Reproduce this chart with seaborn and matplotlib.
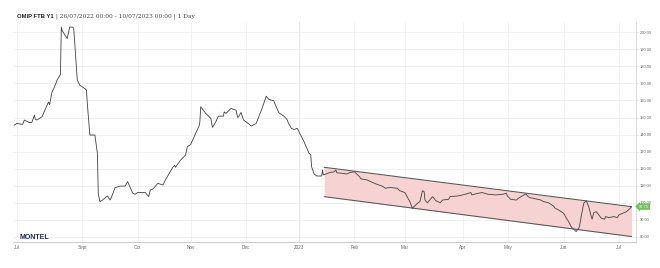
import numpy as np
import pandas as pd
import matplotlib
matplotlib.use("Agg")
import matplotlib.pyplot as plt
import matplotlib.transforms as mtransforms
import seaborn as sns

# ---------------- data ----------------
dates = [
    "2022-07-26", "2022-07-27", "2022-07-30", "2022-08-01", "2022-08-03", "2022-08-04",
    "2022-08-05", "2022-08-06", "2022-08-08", "2022-08-10", "2022-08-13", "2022-08-14",
    "2022-08-15", "2022-08-16", "2022-08-17", "2022-08-18", "2022-08-20", "2022-08-21",
    "2022-08-22", "2022-08-24", "2022-08-25", "2022-08-27", "2022-08-28", "2022-08-30",
    "2022-08-31", "2022-09-02", "2022-09-04", "2022-09-05", "2022-09-06", "2022-09-08",
    "2022-09-09", "2022-09-10", "2022-09-12", "2022-09-13", "2022-09-15", "2022-09-16",
    "2022-09-18", "2022-09-20", "2022-09-22", "2022-09-26", "2022-09-27", "2022-09-29",
    "2022-09-30", "2022-10-03", "2022-10-06", "2022-10-08", "2022-10-10", "2022-10-11",
    "2022-10-13", "2022-10-17", "2022-10-18", "2022-10-21", "2022-10-23", "2022-10-24",
    "2022-10-26", "2022-10-28", "2022-10-30", "2022-11-01", "2022-11-03", "2022-11-05",
    "2022-11-06", "2022-11-07", "2022-11-09", "2022-11-11", "2022-11-13", "2022-11-15",
    "2022-11-16", "2022-11-18", "2022-11-19", "2022-11-21", "2022-11-23", "2022-11-25",
    "2022-11-27", "2022-11-28", "2022-11-29", "2022-11-30", "2022-12-03", "2022-12-05",
    "2022-12-07", "2022-12-10", "2022-12-13", "2022-12-14", "2022-12-16", "2022-12-18",
    "2022-12-20", "2022-12-22", "2022-12-24", "2022-12-26", "2022-12-28", "2022-12-29",
    "2022-12-31", "2023-01-02", "2023-01-04", "2023-01-06", "2023-01-08", "2023-01-09",
    "2023-01-10", "2023-01-11", "2023-01-13", "2023-01-14", "2023-01-15", "2023-01-18",
    "2023-01-20", "2023-01-22", "2023-01-23", "2023-01-25", "2023-01-27", "2023-01-30",
    "2023-02-01", "2023-02-03", "2023-02-05", "2023-02-08", "2023-02-11", "2023-02-14",
    "2023-02-16", "2023-02-18", "2023-02-21", "2023-02-24", "2023-02-27", "2023-03-01",
    "2023-03-03", "2023-03-05", "2023-03-06", "2023-03-08", "2023-03-09", "2023-03-10",
    "2023-03-12", "2023-03-13", "2023-03-14", "2023-03-16", "2023-03-18", "2023-03-21",
    "2023-03-22", "2023-03-25", "2023-03-27", "2023-03-30", "2023-04-01", "2023-04-04",
    "2023-04-07", "2023-04-09", "2023-04-12", "2023-04-16", "2023-04-19", "2023-04-24",
    "2023-04-27", "2023-04-29", "2023-05-01", "2023-05-03", "2023-05-06", "2023-05-08",
    "2023-05-11", "2023-05-12", "2023-05-14", "2023-05-16", "2023-05-19", "2023-05-22",
    "2023-05-24", "2023-05-26", "2023-05-28", "2023-05-30", "2023-06-01", "2023-06-03",
    "2023-06-05", "2023-06-06", "2023-06-08", "2023-06-09", "2023-06-10", "2023-06-12",
    "2023-06-13", "2023-06-14", "2023-06-15", "2023-06-16", "2023-06-17", "2023-06-19",
    "2023-06-20", "2023-06-22", "2023-06-24", "2023-06-25", "2023-06-27", "2023-06-29",
    "2023-07-01", "2023-07-03", "2023-07-06", "2023-07-09", "2023-07-10",
]
prices = [
    145.5, 146.5, 146.0, 148.5, 147.0, 147.2,
    151.4, 149.0, 148.5, 150.4, 158.3, 159.0,
    157.5, 165.0, 168.0, 172.0, 175.2, 203.0,
    201.0, 196.3, 203.0, 203.0, 201.0, 172.0,
    169.0, 167.0, 166.0, 158.0, 139.7, 139.7,
    129.0, 105.6, 100.7, 101.6, 104.0, 101.6,
    103.6, 108.8, 109.8, 109.8, 112.4, 105.6,
    105.0, 106.1, 106.0, 103.6, 107.5, 108.0,
    111.4, 110.4, 113.4, 121.0, 122.0, 120.8,
    125.0, 128.0, 132.8, 134.2, 140.7, 145.0,
    147.5, 156.3, 152.4, 149.5, 144.2, 147.5,
    150.8, 150.8, 153.3, 152.4, 155.3, 154.3,
    150.0, 150.4, 153.0, 148.5, 146.0, 145.0,
    146.5, 155.3, 162.5, 160.6, 159.8, 157.3,
    152.8, 150.8, 148.9, 146.9, 143.6, 143.0,
    143.6, 141.6, 135.8, 129.0, 128.3, 121.1,
    116.9, 115.7, 115.7, 119.2, 116.3, 117.6,
    118.2, 119.2, 117.6, 117.3, 116.9, 117.6,
    118.2, 115.3, 114.0, 113.4, 111.8, 110.8,
    109.8, 108.5, 109.0, 108.5, 107.1, 106.0,
    100.7, 98.1, 96.8, 99.7, 100.7, 107.1,
    106.5, 101.6, 100.0, 103.6, 101.2, 100.0,
    101.6, 102.0, 103.6, 104.0, 104.4, 105.0,
    106.0, 104.6, 105.2, 106.0, 105.0, 104.6,
    105.0, 105.6, 104.0, 102.0, 101.6, 102.6,
    105.2, 103.6, 103.0, 102.6, 101.6, 100.7,
    100.0, 98.1, 96.8, 95.8, 93.9, 90.4,
    89.0, 86.0, 83.1, 85.1, 86.0, 91.9,
    99.7, 101.2, 97.7, 91.9, 90.4, 94.2,
    94.8, 90.9, 90.4, 91.9, 91.3, 91.9,
    91.3, 92.9, 94.8, 97.1, 97.75,
]

channel_dates = ["2023-01-16", "2023-07-10"]
channel_upper = [120.8, 97.7]
channel_lower = [103.6, 80.2]

holidays = ["2022-12-26", "2023-04-07", "2023-04-10", "2023-05-01"]
month_starts = ["2022-07-27", "2022-09-01", "2022-10-01", "2022-11-01", "2022-12-01",
                "2023-01-01", "2023-02-01", "2023-03-01", "2023-04-01", "2023-05-01",
                "2023-06-01", "2023-07-01"]
month_labels = ["Jul", "Sept", "Oct", "Nov", "Dec", "2023", "Feb", "Mar", "Apr", "May",
                "Jun", "Jul"]
yticks = [80, 90, 100, 110, 120, 130, 140, 150, 160, 170, 180, 190, 200]

title_bold = "OMIP FTB Y1"
title_rest = " | 26/07/2022 00:00 - 10/07/2023 00:00 | 1 Day"
brand = "MONTEL"

# ------------- ordinal (trading-day) axis -------------
trading = pd.bdate_range("2022-07-26", "2023-07-10")
trading = trading[~trading.isin(pd.to_datetime(holidays))]
t_ns = trading.values.astype("int64")


def ordinal(ds):
    d = pd.to_datetime(ds).values.astype("int64")
    return np.interp(d, t_ns, np.arange(len(trading)))


df = pd.DataFrame({"pos": ordinal(dates), "price": prices})
tick_pos = [int(np.searchsorted(trading.values, np.datetime64(m))) for m in month_starts]
chan_x = ordinal(channel_dates)

# ---------------- plot ----------------
sns.set_theme(style="white")
plt.rcParams["font.family"] = ["Liberation Sans", "DejaVu Sans"]

fig = plt.figure(figsize=(6.6, 2.68), dpi=100)
ax = fig.add_axes([13 / 660, 26 / 268, 623 / 660, 220 / 268])

ax.fill_between(chan_x, channel_lower, channel_upper, color="#f6d2d2", lw=0, zorder=1)
ax.plot(chan_x, channel_upper, color="#555555", lw=0.75, zorder=2)
ax.plot(chan_x, channel_lower, color="#555555", lw=0.75, zorder=2)

sns.lineplot(data=df, x="pos", y="price", ax=ax, color="#404040", linewidth=0.6, zorder=3)

ax.axvline(tick_pos[5], color="#cfcfcf", lw=0.8, zorder=0.5)

ax.set_xlim(-0.5, len(trading) - 1 + 1.75)
ax.set_ylim(77, 206)
ax.set_xlabel("")
ax.set_ylabel("")

ax.set_xticks(tick_pos)
ax.set_xticklabels(month_labels)
ax.tick_params(axis="x", length=0, pad=2.5, labelsize=3.3, labelcolor="#666666")

ax.yaxis.tick_right()
ax.set_yticks(yticks)
ax.set_yticklabels([f"{v:.2f}" for v in yticks])
ax.tick_params(axis="y", length=1.5, width=0.4, color="#cccccc", pad=1.2,
               labelsize=2.9, labelcolor="#666666")

ax.grid(True, color="#eeeeee", lw=0.6)
ax.set_axisbelow(True)
for s in ["left", "top"]:
    ax.spines[s].set_visible(False)
ax.spines["bottom"].set_color("#cccccc")
ax.spines["bottom"].set_linewidth(0.8)
ax.spines["right"].set_color("#dddddd")
ax.spines["right"].set_linewidth(0.8)

# last value label
trans = mtransforms.blended_transform_factory(ax.transAxes, ax.transData)
ax.annotate(f"{prices[-1]:.2f}", xy=(1.0, prices[-1]), xycoords=trans,
            xytext=(2.0, 0), textcoords="offset points", fontsize=2.9, color="white",
            va="center", ha="left", annotation_clip=False,
            bbox=dict(boxstyle="larrow,pad=0.3", fc="#72c15a", ec="none"))

# title
t1 = fig.text(17 / 660, 1 - 19 / 268, title_bold, fontsize=4.2, fontweight="bold",
              family=["Liberation Sans", "DejaVu Sans"], color="#222222", va="bottom")
ax.annotate(title_rest, xy=(1, 0), xycoords=t1, va="bottom", ha="left",
            fontsize=4.3, family=["DejaVu Serif"], color="#444444",
            annotation_clip=False)

# brand
ax.text(0.011, 0.012, brand, transform=ax.transAxes, fontsize=5, fontweight="bold",
        color="#1d2b5c", va="baseline", ha="left")

fig.savefig("out.png", dpi=100)
